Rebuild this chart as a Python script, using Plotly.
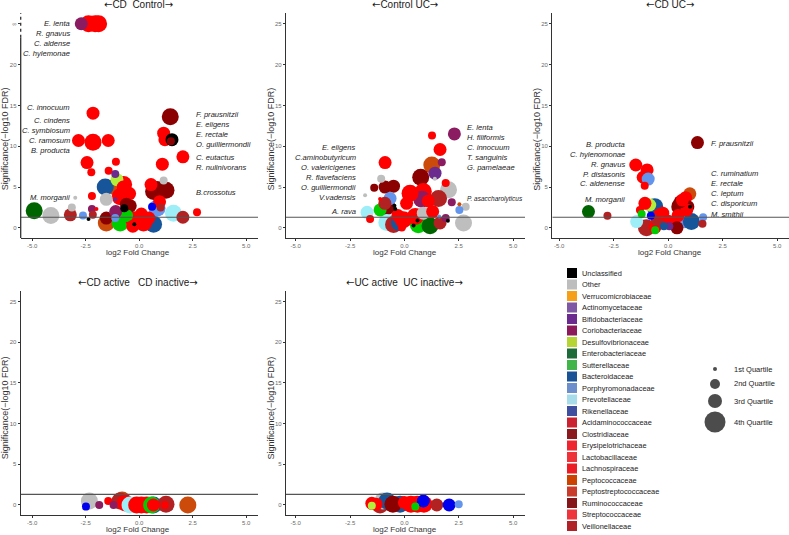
import math
import plotly.graph_objects as go

W, H = 789, 535
FONT = "Liberation Sans"
inf = math.inf

# ---------------- categories ----------------
families = ["Unclassified", "Other", "Verrucomicrobiaceae", "Actinomycetaceae",
            "Bifidobacteriaceae", "Coriobacteriaceae", "Desulfovibrionaceae",
            "Enterobacteriaceae", "Sutterellaceae", "Bacteroidaceae",
            "Porphyromonadaceae", "Prevotellaceae", "Rikenellaceae",
            "Acidaminococcaceae", "Clostridiaceae", "Erysipelotrichaceae",
            "Lactobacillaceae", "Lachnospiraceae", "Peptococcaceae",
            "Peptostreptococcaceae", "Ruminococcaceae", "Streptococcaceae",
            "Veillonellaceae"]
family_codes = ["Unc", "Oth", "Ver", "Act", "Bif", "Cor", "Des", "Ent", "Sut", "Bac",
                "Por", "Pre", "Rik", "Aci", "Clo", "Ery", "Lac", "Lch", "Pco", "Pst",
                "Rum", "Str", "Vei"]
point_colors = ["#000000", "#BEBEBE", "#FFA500", "#8B4FBF", "#6A2A8E", "#8B1C62",
                "#B3EE3A", "#006400", "#00CD00", "#17559A", "#6495ED", "#9EEEF8",
                "#0000EE", "#CD2626", "#8B1A1A", "#FF0000", "#EE2C2C", "#FF0000",
                "#CC4A0A", "#CD3333", "#8B0000", "#EE3B3B", "#B22222"]
legend_colors = ["#000000", "#BDBDBD", "#F6A01A", "#7E57A5", "#6B2A8D", "#8C1A5B",
                 "#B6D433", "#1D6B38", "#41B549", "#1A5296", "#6C8FCB", "#A7DCEA",
                 "#3E4FA0", "#CA2230", "#8A1A1E", "#EE2530", "#EE3239", "#EC1C24",
                 "#CC4200", "#C93B2B", "#841519", "#EE343C", "#B12228"]
quartile_labels = ["1st Quartile", "2nd Quartile", "3rd Quartile", "4th Quartile"]
quartile_px = [4, 8, 13, 17]
legend_quartile_px = [4, 10, 14, 21]

x_tickvals = [-5, -2.5, 0, 2.5, 5]
x_ticktext = ["-5.0", "-2.5", "0.0", "2.5", "5.0"]
y_tickvals = [0, 5, 10, 15, 20, 25]
y_ticktext = ["0", "5", "10", "15", "20", "25"]
y_ticktext_inf = ["0", "5", "10", "15", "20", "\u221e"]
fdr_threshold = 1.3

# ---------------- CD vs Control ----------------
cdc_fc = [-2.71, -2.37, -2.06, -1.90, -2.16, -2.84, -2.16, -1.45, -2.44, -1.09,
          -2.24, -1.43, -1.12, -0.73, -1.04, -1.12, -1.59, -1.54, -1.12, -2.21,
          -0.89, -0.42, -2.99, -4.91, -4.13, -3.15, -3.22, -2.21, -2.00, -2.63,
          -2.37, -2.17, -1.54, -1.54, -0.70, -0.89, -0.59, -1.12, 0.28, 0.67,
          0.83, 0.60, 0.83, -0.45, 1.08, 1.45, 1.14, 1.20, 1.53, 1.48,
          2.04, 1.14, 0.67, 1.60, 2.04, 2.70, 0.20, -0.23, -0.75, 0.55,
          1.00, -0.60, -1.10, 0.10, -0.30, 0.45, 0.95, 1.25, -0.25]
cdc_sig = [inf, inf, inf, inf, 14.05, 10.7, 10.5, 10.7, 8.0, 8.1,
           6.8, 7.0, 6.6, 5.3, 5.9, 5.0, 5.0, 3.5, 3.5, 3.9,
           3.8, 2.7, 3.7, 2.1, 1.5, 2.5, 1.6, 2.3, 2.3, 1.5,
           1.1, 1.6, 1.2, 0.6, 2.4, 0.6, 1.5, 1.2, 0.8, 0.45,
           2.4, 2.6, 4.7, 4.2, 7.8, 13.6, 11.6, 10.8, 10.8, 10.6,
           8.7, 5.8, 4.45, 1.8, 1.3, 1.9, 0.6, 0.45, 5.0, 5.3,
           2.5, 2.9, 2.0, 1.7, 0.2, 1.2, 3.2, 4.6, 1.0]
cdc_fam = ["Cor", "Lch", "Lch", "Lch", "Ery", "Lch", "Lch", "Lch", "Lch", "Lch",
           "Lch", "Lch", "Bif", "Lch", "Des", "Pco", "Bac", "Oth", "Bif", "Lch",
           "Lch", "Rum", "Oth", "Ent", "Oth", "Oth", "Vei", "Cor", "Lch", "Por",
           "Unc", "Vei", "Rum", "Pco", "Unc", "Sut", "Sut", "Por", "Lch", "Bac",
           "Por", "Rik", "Rum", "Lch", "Lch", "Rum", "Lch", "Lch", "Unc", "Rum",
           "Lch", "Oth", "Rum", "Pre", "Vei", "Lch", "Lch", "Unc", "Lch", "Lch",
           "Vei", "Rum", "Cor", "Lch", "Lch", "Lch", "Lch", "Rum", "Lch"]
cdc_q = [3, 4, 4, 4, 3, 3, 4, 3, 3, 2,
         2, 2, 2, 4, 3, 4, 4, 3, 1, 2,
         4, 3, 1, 4, 4, 2, 3, 2, 1, 2,
         1, 2, 3, 4, 2, 4, 3, 2, 4, 4,
         4, 2, 4, 3, 3, 4, 3, 3, 3, 2,
         3, 2, 4, 4, 3, 2, 4, 1, 3, 3,
         2, 3, 3, 3, 3, 3, 3, 4, 4]

# ---------------- Control vs UC ----------------
cu_fc = [2.30, 1.27, 1.64, -0.89, 1.26, 1.72, 1.41, 1.40, 0.75, -1.07,
         -1.39, -0.89, -0.50, 1.90, 2.03, 0.87, 0.80, 1.57, 0.26, 2.18,
         2.53, 2.82, 2.53, 2.72, -1.81, -1.12, -0.66, -0.81, -0.46, -0.42,
         -1.72, -1.12, -1.58, -0.81, -0.50, -0.23, -0.12, 0.64, 1.18, 0.42,
         0.60, 2.00, 1.64, 0.50, 0.87, 1.30, 1.60, 1.90, -0.30, 0.10,
         1.10, -0.90, -0.05]
cu_sig = [11.5, 11.3, 9.6, 8.0, 7.7, 8.05, 6.7, 6.0, 6.2, 6.0,
          4.9, 5.0, 5.1, 5.5, 4.66, 4.45, 3.5, 3.6, 4.25, 3.15,
          2.9, 2.6, 2.2, 0.6, 4.0, 3.55, 3.6, 2.6, 2.7, 2.3,
          1.9, 2.2, 1.1, 0.65, 0.4, 0.65, 0.04, 0.37, 0.25, 0.3,
          0.9, 0.86, 0.6, 1.4, 1.8, 2.0, 1.4, 1.2, 1.5, 3.0,
          3.3, 3.0, 1.0]
cu_fam = ["Cor", "Lch", "Lch", "Lch", "Pco", "Cor", "Bif", "Oth", "Rum", "Oth",
          "Rum", "Rum", "Rum", "Lch", "Oth", "Lch", "Cor", "Vei", "Lch", "Cor",
          "Pco", "Oth", "Por", "Oth", "Oth", "Lch", "Por", "Rum", "Unc", "Unc",
          "Pre", "Sut", "Lch", "Pre", "Vei", "Bac", "Lch", "Sut", "Ent", "Unc",
          "Unc", "Unc", "Vei", "Lch", "Oth", "Lch", "Por", "Cor", "Lch", "Lch",
          "Lch", "Vei", "Lch"]
cu_q = [3, 2, 3, 3, 4, 2, 3, 1, 4, 2,
        2, 3, 3, 2, 4, 4, 4, 4, 4, 2,
        1, 2, 2, 4, 1, 1, 3, 4, 1, 1,
        3, 3, 2, 4, 4, 4, 2, 4, 4, 1,
        1, 1, 3, 4, 3, 3, 1, 2, 3, 3,
        3, 3, 4]

# ---------------- CD vs UC ----------------
cdu_fc = [1.34, -1.49, -0.97, -1.15, -0.92, -1.08, -3.66, -2.79, 0.99, 0.80,
          0.53, 0.90, 0.85, 1.00, 0.45, 0.76, 1.60, 1.57, 1.06, 0.22,
          0.05, -0.20, -0.62, -0.85, -1.07, -1.30, -1.22, -0.80, -1.45, -1.00,
          -0.60, -0.60, 0.00, -0.40, 0.55, 0.40, -0.50, -0.25, 0.65]
cdu_sig = [10.45, 7.7, 7.1, 6.2, 5.97, 5.15, 2.0, 1.47, 4.17, 3.7,
           2.6, 2.6, 2.2, 2.6, 1.5, 1.0, 1.3, 0.5, 0.77, 0.57,
           0.2, 0.2, 2.6, 2.8, 3.0, 2.2, 1.7, 1.47, 0.77, 0.0,
           0.1, -0.3, 0.8, 1.6, 3.2, 0.0, 1.0, 1.8, 3.4]
cdu_fam = ["Rum", "Lch", "Lch", "Lch", "Por", "Lch", "Ent", "Vei", "Pco", "Lch",
           "Rum", "Rum", "Lch", "Unc", "Lch", "Por", "Por", "Vei", "Bac", "Lch",
           "Bif", "Bac", "Bac", "Des", "Lch", "Lch", "Sut", "Rik", "Pre", "Vei",
           "Lch", "Sut", "Lch", "Lch", "Rum", "Rum", "Vei", "Lch", "Lch"]
cdu_q = [3, 3, 3, 3, 3, 2, 3, 2, 3, 3,
         4, 3, 3, 1, 3, 4, 2, 2, 4, 3,
         2, 2, 4, 3, 3, 2, 2, 2, 3, 4,
         3, 2, 3, 3, 3, 3, 3, 3, 3]

# ---------------- CD active vs CD inactive ----------------
cda_fc = [-2.33, -2.49, -1.87, -1.45, -1.20, -0.80, -0.90, -0.65, -0.43, -0.12,
          0.10, 0.35, 0.66, 0.58, 0.66, 1.25, 1.20, 2.27]
cda_sig = [0.49, -0.2, 0.0, 0.5, 0.0, 0.6, 0.49, 0.25, 0.0, 0.0,
           0.0, 0.0, 0.0, 0.0, 0.0, 0.08, 0.0, 0.0]
cda_fam = ["Oth", "Rik", "Cor", "Lch", "Cor", "Pco", "Vei", "Lch", "Pre", "Lch",
           "Lch", "Lch", "Bac", "Sut", "Lch", "Vei", "Lch", "Pco"]
cda_q = [4, 2, 2, 2, 2, 4, 4, 4, 4, 4,
         4, 4, 4, 4, 3, 4, 2, 4]

# ---------------- UC active vs UC inactive ----------------
uca_fc = [-1.50, -1.50, -1.12, -1.30, -1.00, -0.80, -0.20, 0.30, 0.60, 0.90,
          -0.53, 0.87, 1.49, 2.06, 2.50, 0.50, 0.00]
uca_sig = [0.2, -0.1, 0.0, 0.1, 0.5, 0.5, 0.08, 0.1, 0.1, 0.1,
           0.08, 0.49, 0.0, 0.0, 0.1, -0.2, 0.3]
uca_fam = ["Lch", "Des", "Vei", "Lch", "Oth", "Bac", "Bac", "Lch", "Lch", "Lch",
           "Rum", "Rik", "Vei", "Rik", "Por", "Sut", "Lch"]
uca_q = [3, 2, 4, 3, 4, 4, 4, 4, 4, 4,
         4, 3, 3, 3, 2, 2, 3]

# ---------------- species labels ----------------
cdc_left_labels = ["E. lenta", "R. gnavus", "C. aldense", "C. hylemonae",
                   "C. innocuum", "C. cindens", "C. symbiosum", "C. ramosum",
                   "B. producta", "M. morganii"]
cdc_right_labels = ["F. prausnitzii", "E. eligens", "E. rectale", "O. guilliermondii",
                    "C. eutactus", "R. nulinivorans", "B.crossotus"]
cu_left_labels = ["E. eligens", "C.aminobutyricum", "O. valericigenes", "R. flavefaciens",
                  "O. guilliermondii", "V.vadensis", "A. rava"]
cu_right_labels = ["E. lenta", "H. filiformis", "C. innocuum", "T. sanguinis",
                   "G. pamelaeae", "P. asaccharolyticus"]
cdu_left_labels = ["B. producta", "C. hylenomonae", "R. gnavus", "P. distasonis",
                   "C. aldenense", "M. morganii"]
cdu_right_labels = ["F. prausnitzii", "C. ruminatium", "E. rectale", "C. leptum",
                    "C. disporicum", "M. smithii"]

LA = '<span style="font-family:DejaVu Sans">\u2190</span>'
RA = '<span style="font-family:DejaVu Sans">\u2192</span>'
panel_titles = [LA + "CD\u00a0\u00a0Control" + RA, LA + "Control\u00a0UC" + RA,
                LA + "CD\u00a0UC" + RA, LA + "CD active\u00a0\u00a0\u00a0CD inactive" + RA,
                LA + "UC active\u00a0\u00a0UC inactive" + RA]

# ---------------- layout geometry (pixels) ----------------
TOP_Y = (12.9, 237.9)
BOT_Y = (290.7, 515.0)
Y_RANGE = [-1.23, 26.33]
panels = [
    dict(fc=cdc_fc, sig=cdc_sig, fam=cdc_fam, q=cdc_q, xpx=(20.7, 258.0), ypx=TOP_Y,
         xr=[-5.54, 5.55], inf_axis=True, ytitle_y=139),
    dict(fc=cu_fc, sig=cu_sig, fam=cu_fam, q=cu_q, xpx=(286.0, 525.0), ypx=TOP_Y,
         xr=[-5.45, 5.55], inf_axis=False, ytitle_y=139),
    dict(fc=cdu_fc, sig=cdu_sig, fam=cdu_fam, q=cdu_q, xpx=(552.3, 789.0), ypx=TOP_Y,
         xr=[-5.32, 5.54], inf_axis=False, ytitle_y=139),
    dict(fc=cda_fc, sig=cda_sig, fam=cda_fam, q=cda_q, xpx=(20.7, 258.0), ypx=BOT_Y,
         xr=[-5.54, 5.55], inf_axis=False, ytitle_y=408),
    dict(fc=uca_fc, sig=uca_sig, fam=uca_fam, q=uca_q, xpx=(286.0, 525.0), ypx=BOT_Y,
         xr=[-5.45, 5.55], inf_axis=False, ytitle_y=408),
]

AXIS_COLOR = "#333333"

fig = go.Figure()
layout = dict(width=W, height=H, autosize=False, margin=dict(l=0, r=0, t=0, b=0),
              paper_bgcolor="white", plot_bgcolor="rgba(0,0,0,0)", showlegend=False)
shapes = []
annotations = []


def ann(text, px, py, xanchor="center", size=7, italic=False, color="#222222", angle=0):
    return dict(text=text, x=px / W, y=1 - py / H, xref="paper", yref="paper",
                xanchor=xanchor, yanchor="middle", showarrow=False, textangle=angle,
                font=dict(family=FONT, size=size, color=color,
                          style="italic" if italic else "normal"))


for i, p in enumerate(panels, start=1):
    sfx = "" if i == 1 else str(i)
    xd = [p["xpx"][0] / W, p["xpx"][1] / W]
    yd = [1 - p["ypx"][1] / H, 1 - p["ypx"][0] / H]
    idx = sorted(range(len(p["fc"])), key=lambda k: -p["q"][k])
    xs = [p["fc"][k] for k in idx]
    ys = [25 if p["sig"][k] == inf else p["sig"][k] for k in idx]
    cols = [point_colors[family_codes.index(p["fam"][k])] for k in idx]
    sizes = [quartile_px[p["q"][k] - 1] for k in idx]
    fig.add_trace(go.Scatter(x=xs, y=ys, mode="markers", xaxis="x" + sfx, yaxis="y" + sfx,
                             marker=dict(color=cols, size=sizes, opacity=1,
                                         line=dict(width=0)),
                             cliponaxis=False, hoverinfo="skip"))
    layout["xaxis" + sfx] = dict(domain=xd, range=p["xr"], anchor="y" + sfx,
                                 tickvals=x_tickvals, ticktext=x_ticktext,
                                 showline=True, linecolor=AXIS_COLOR, linewidth=1.3,
                                 ticks="outside", ticklen=2, tickcolor=AXIS_COLOR,
                                 tickfont=dict(family=FONT, size=6, color="#6a6a6a"),
                                 showgrid=False, zeroline=False, fixedrange=True)
    layout["yaxis" + sfx] = dict(domain=yd, range=Y_RANGE, anchor="x" + sfx,
                                 tickvals=y_tickvals,
                                 ticktext=y_ticktext_inf if p["inf_axis"] else y_ticktext,
                                 showline=not p["inf_axis"], linecolor=AXIS_COLOR,
                                 linewidth=1.3, ticks="outside", ticklen=2,
                                 tickcolor=AXIS_COLOR,
                                 tickfont=dict(family=FONT, size=6, color="#6a6a6a"),
                                 showgrid=False, zeroline=False, fixedrange=True)
    # significance threshold
    shapes.append(dict(type="line", xref="x" + sfx, yref="y" + sfx, x0=p["xr"][0],
                       x1=p["xr"][1], y0=fdr_threshold, y1=fdr_threshold,
                       line=dict(color="#555555", width=1.1)))
    if p["inf_axis"]:
        def ypaper(v, yd=yd):
            return yd[0] + (v - Y_RANGE[0]) / (Y_RANGE[1] - Y_RANGE[0]) * (yd[1] - yd[0])
        shapes.append(dict(type="line", xref="paper", yref="paper", x0=xd[0], x1=xd[0],
                           y0=yd[0], y1=ypaper(23.3),
                           line=dict(color=AXIS_COLOR, width=1.3)))
        shapes.append(dict(type="line", xref="paper", yref="paper", x0=xd[0], x1=xd[0],
                           y0=ypaper(23.3), y1=yd[1],
                           line=dict(color=AXIS_COLOR, width=1.3, dash="3px,3px")))
    # titles
    cx = (p["xpx"][0] + p["xpx"][1]) / 2 + 1
    top = p["ypx"][0]
    bottom = p["ypx"][1]
    annotations.append(ann(panel_titles[i - 1], cx - 2, top - 8, size=10,
                           color="#1a1a1a"))
    annotations.append(ann("log2 Fold Change", cx - 2, bottom + 14.5, size=8,
                           color="#333333"))
    annotations.append(ann("Significance(\u2212log10 FDR)", p["xpx"][0] - 15.5,
                           p["ytitle_y"], size=9, color="#333333", angle=-90))

# species labels
label_font = 7.6
for t, y in zip(cdc_left_labels, [24, 34, 43.5, 53.3, 107.3, 120.7, 130.7, 140.7, 150.7, 197.5]):
    annotations.append(ann(t, 72, y, xanchor="right", size=label_font, italic=True))
for t, y in zip(cdc_right_labels, [114.3, 124.3, 134, 144, 157.7, 167.7, 192.7]):
    annotations.append(ann(t, 194, y, xanchor="left", size=label_font, italic=True))
for t, y in zip(cu_left_labels, [147.3, 157.3, 167.3, 177.3, 187.3, 197.3, 211.7]):
    annotations.append(ann(t, 357.5, y, xanchor="right", size=label_font, italic=True))
for t, y in zip(cu_right_labels, [127.7, 137.7, 147.7, 157.7, 167.7, 199]):
    annotations.append(ann(t, 465.5, y, xanchor="left",
                           size=label_font if t != "P. asaccharolyticus" else 6.5,
                           italic=True))
for t, y in zip(cdu_left_labels, [144.3, 154.3, 164.3, 174, 183.7, 199.3]):
    annotations.append(ann(t, 627, y, xanchor="right", size=label_font, italic=True))
for t, y in zip(cdu_right_labels, [143.3, 173.3, 183.3, 193.3, 203.3, 215]):
    annotations.append(ann(t, 709, y, xanchor="left", size=label_font, italic=True))

# ---------------- legends (pixel-coordinate hidden axes) ----------------
LX0, LY0 = 555.0, 258.0
layout["xaxis6"] = dict(domain=[LX0 / W, 1], range=[LX0, W], visible=False,
                        fixedrange=True, anchor="y6")
layout["yaxis6"] = dict(domain=[0, 1 - LY0 / H], range=[H, LY0], visible=False,
                        fixedrange=True, anchor="x6")
leg_y = [273 + 11.5 * k for k in range(len(families))]
fig.add_trace(go.Scatter(x=[572] * len(families), y=leg_y, mode="markers",
                         xaxis="x6", yaxis="y6", hoverinfo="skip", cliponaxis=False,
                         marker=dict(symbol="square", size=10, color=legend_colors,
                                     line=dict(width=0))))
for name, y in zip(families, leg_y):
    annotations.append(ann(name, 580, y, xanchor="left", size=7.4, color="#222222"))

q_y = [369, 384, 401, 422]
fig.add_trace(go.Scatter(x=[715] * 4, y=q_y, mode="markers", xaxis="x6", yaxis="y6",
                         hoverinfo="skip", cliponaxis=False,
                         marker=dict(size=legend_quartile_px, color="black",
                                     line=dict(width=0))))
for name, y in zip(quartile_labels, q_y):
    annotations.append(ann(name, 732, y, xanchor="left", size=7.5, color="#222222"))

layout["shapes"] = shapes
layout["annotations"] = annotations
fig.update_layout(**layout)
fig.write_html("out.html", config={"displayModeBar": False},
               post_script="document.body.style.margin='0px';")
